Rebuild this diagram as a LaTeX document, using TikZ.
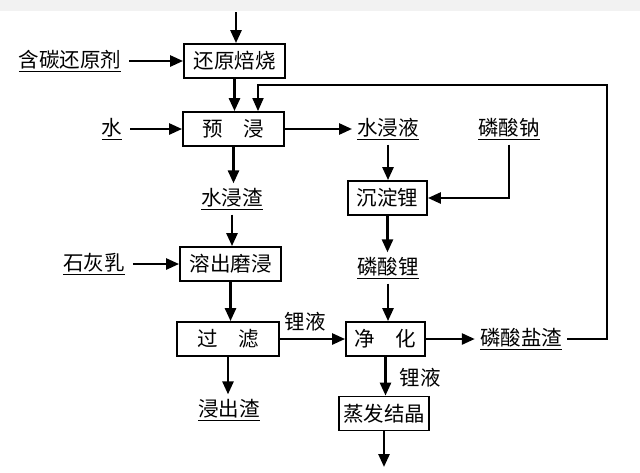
\documentclass[tikz,border=0pt]{standalone}
\usepackage{fontspec}
\newfontfamily\cjk{Noto Sans CJK SC}
\usetikzlibrary{arrows.meta}
\usetikzlibrary{positioning}

\tikzset{
  box/.style={draw,line width=1.8pt,minimum height=34pt,inner sep=0pt,font=\cjk\fontsize{20.5}{24}\selectfont},
  lbl/.style={inner sep=5pt,font=\cjk\fontsize{20.5}{24}\selectfont},
  flow/.style={->,line width=2.6pt},
  back/.style={->,line width=1.8pt}
}

\begin{document}
\begin{tikzpicture}[line join=miter,>={Triangle[length=13pt,width=11pt]},x=1pt,y=-1pt]
\fill[black!5] (0,0) rectangle (640,11);
\useasboundingbox (0,0) rectangle (640,472);
% left column
\node[box,minimum width=101pt] (roast) at (234.5,61) {还原焙烧};
\node[box,minimum width=101pt] (preleach) at (233.5,129) {预\quad 浸};
\node[lbl] (wres) at (232,199) {\underline{水浸渣}};
\node[box,minimum width=101pt] (dissolve) at (230.5,264) {溶出磨浸};
\node[box,minimum width=102pt] (filter) at (228,339) {过\quad 滤};
\node[lbl] (lres) at (229,410) {\underline{浸出渣}};
% inputs
\node[lbl] (carbon) at (70,61) {\underline{含碳还原剂}};
\node[lbl] (water) at (112,129) {\underline{水}};
\node[lbl] (lime) at (94,264) {\underline{石灰乳}};
% right column
\node[lbl] (wliq) at (388,129) {\underline{水浸液}};
\node[lbl] (naph) at (509,129) {\underline{磷酸钠}};
\node[box,minimum width=79pt] (precip) at (387.5,198) {沉淀锂};
\node[lbl] (liph) at (388,268) {\underline{磷酸锂}};
\node[box,minimum width=79pt] (purify) at (385.5,339) {净\quad 化};
\node[lbl] (slag) at (521,339) {\underline{磷酸盐渣}};
\node[box,minimum width=90pt] (evap) at (384,413.5) {蒸发结晶};
\node[lbl,inner sep=0pt] (liq1) at (305,322) {锂液};
\node[lbl,inner sep=0pt] (liq2) at (420,378) {锂液};
\coordinate (feed) at (236,12);
\coordinate (prod) at (385,467);

\draw[flow] (feed) -- (feed |- roast.north);
\draw[flow] (carbon.east) ++(3,0) -- (roast.west);
\draw[flow] (roast.south) -- (roast.south |- preleach.north);
\draw[flow] (water.east) ++(3,0) -- (preleach.west);
\draw[flow] (preleach.east) -- (wliq.west);
\draw[flow] (preleach.south) -- (preleach.south |- wres.north);
\draw[flow] (wres.south) -- (wres.south |- dissolve.north);
\draw[flow] (lime.east) ++(3,0) -- (dissolve.west);
\draw[flow] (dissolve.south) -- (dissolve.south |- filter.north);
\draw[flow] (filter.south) -- (filter.south |- lres.north);
\draw[flow] (filter.east) -- (purify.west);
\draw[flow] (wliq.south) -- (wliq.south |- precip.north);
\draw[flow] (naph.south) |- (precip.east);
\draw[flow] (precip.south) -- (precip.south |- liph.north);
\draw[flow] (liph.south) -- (liph.south |- purify.north);
\draw[flow] (purify.east) -- (slag.west);
\draw[flow] (purify.south) -- (purify.south |- evap.north);
\draw[flow] (evap.south) -- (evap.south |- prod);
% phosphate slag back to pre-leach
\draw[back] (slag.east) -- ++(40,0) |- ([xshift=24.5pt,yshift=26pt]preleach.north) -- ([xshift=24.5pt]preleach.north);
\end{tikzpicture}
\end{document}
